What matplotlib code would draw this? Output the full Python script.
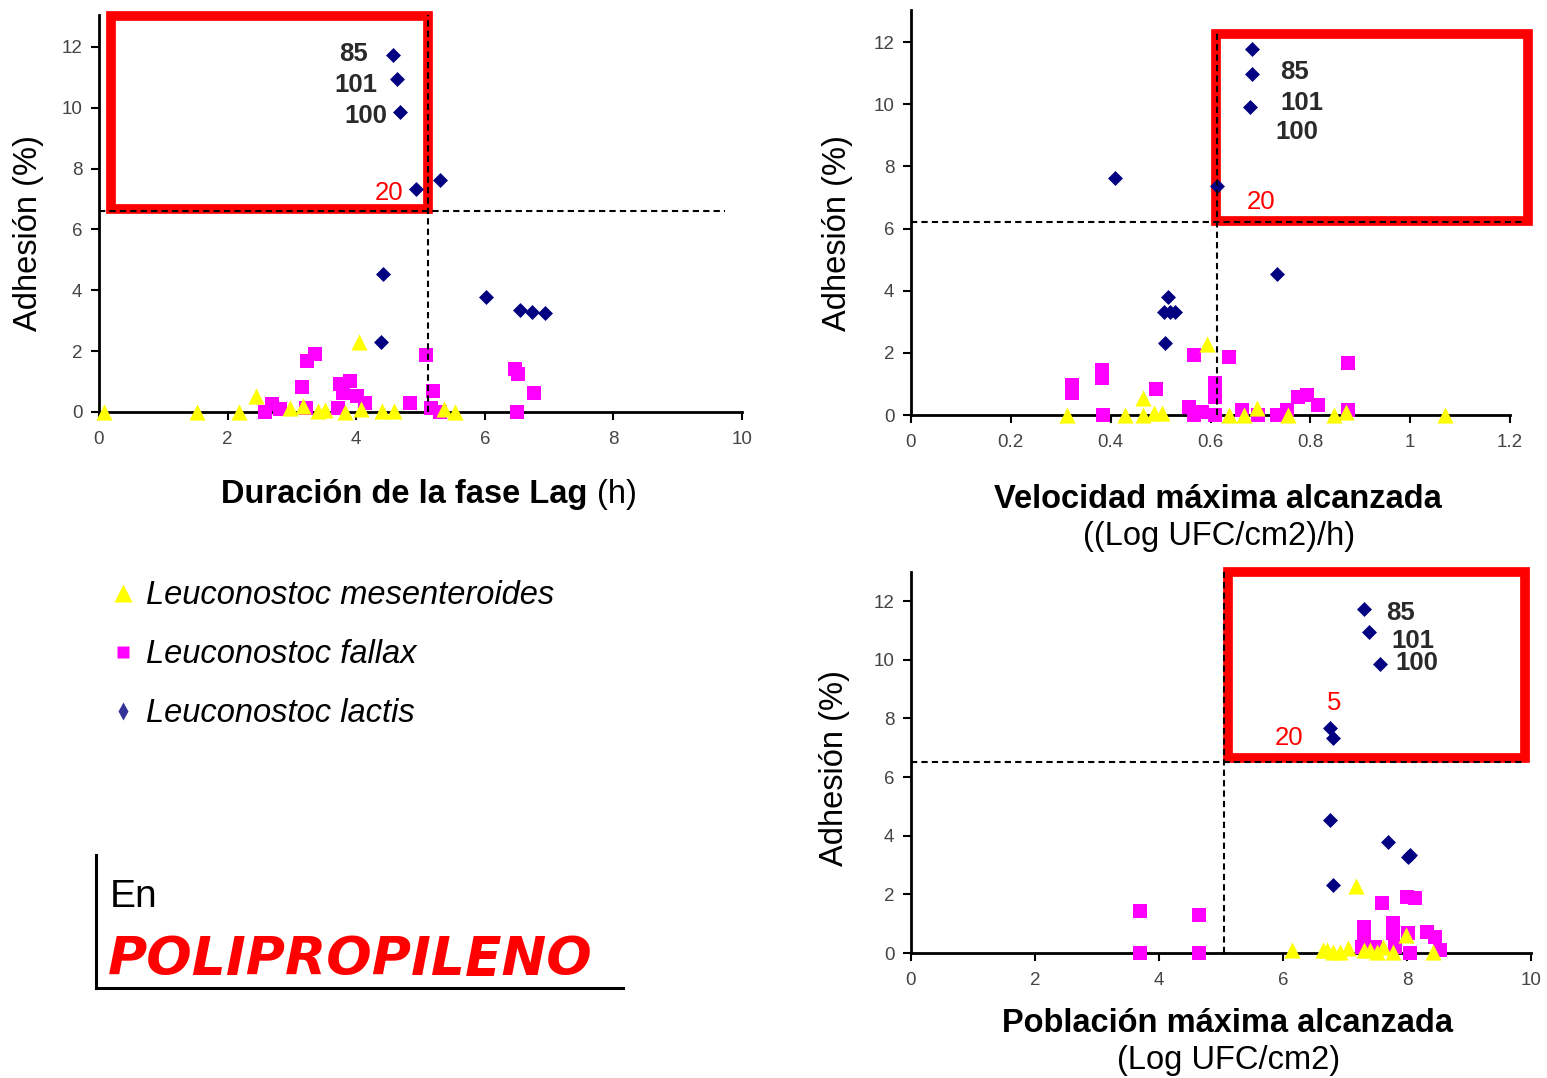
import numpy as np
import matplotlib.pyplot as plt
from matplotlib.patches import Rectangle
from matplotlib.lines import Line2D

plt.rcParams['font.family'] = ['Liberation Sans', 'DejaVu Sans']

# ---------------- data ----------------
# panel 1: duracion de la fase Lag (h)
lag_fal_x = [2.58, 2.69, 2.81, 3.15, 3.23, 3.36, 3.22, 3.75, 3.90, 3.80, 4.01,
             4.14, 3.72, 4.84, 5.09, 5.20, 5.17, 5.30, 6.47, 6.52, 6.77, 6.50]
lag_fal_y = [0.0, 0.25, 0.10, 0.82, 1.68, 1.90, 0.14, 0.91, 1.02, 0.64, 0.53,
             0.31, 0.14, 0.31, 1.87, 0.69, 0.14, 0.0, 1.41, 1.24, 0.64, 0.0]
lag_mes_x = [0.07, 1.53, 2.18, 2.44, 2.97, 3.18, 3.40, 3.52, 3.83, 4.05, 4.07,
             4.40, 4.59, 5.37, 5.54]
lag_mes_y = [0.0, 0.0, 0.0, 0.53, 0.14, 0.20, 0.03, 0.06, 0.0, 2.29, 0.11,
             0.03, 0.03, 0.09, 0.0]
lag_lac_x = [4.57, 4.64, 4.68, 4.93, 5.30, 4.42, 4.39, 6.02, 6.55, 6.73, 6.94]
lag_lac_y = [11.72, 10.94, 9.85, 7.34, 7.62, 4.55, 2.31, 3.79, 3.36, 3.30, 3.26]

# panel 2: velocidad maxima alcanzada ((Log UFC/cm2)/h)
vel_fal_x = [0.323, 0.323, 0.382, 0.382, 0.384, 0.491, 0.566, 0.556, 0.566,
             0.583, 0.609, 0.609, 0.609, 0.638, 0.663, 0.696, 0.734, 0.753,
             0.776, 0.793, 0.816, 0.876, 0.876]
vel_fal_y = [0.96, 0.70, 1.45, 1.18, 0.0, 0.83, 1.93, 0.27, 0.0, 0.10, 1.02,
             0.59, 0.0, 1.86, 0.16, 0.0, 0.0, 0.16, 0.59, 0.64, 0.32, 1.66, 0.16]
vel_mes_x = [0.312, 0.428, 0.464, 0.464, 0.486, 0.502, 0.593, 0.638, 0.667,
             0.694, 0.756, 0.848, 0.872, 1.07]
vel_mes_y = [0.0, 0.0, 0.54, 0.0, 0.05, 0.05, 2.28, 0.0, 0.0, 0.21, 0.0, 0.0,
             0.10, 0.0]
vel_lac_x = [0.684, 0.684, 0.679, 0.409, 0.614, 0.733, 0.514, 0.506, 0.518,
             0.529, 0.509]
vel_lac_y = [11.78, 10.98, 9.91, 7.63, 7.38, 4.54, 3.81, 3.32, 3.32, 3.32, 2.31]

# panel 3: poblacion maxima alcanzada (Log UFC/cm2)
pob_fal_x = [3.69, 3.69, 4.65, 4.65, 7.30, 7.30, 7.59, 7.78, 7.78, 8.00, 8.13,
             8.02, 8.05, 8.32, 8.45, 8.53, 7.27, 7.48, 7.81]
pob_fal_y = [1.43, 0.0, 1.30, 0.0, 0.90, 0.44, 1.69, 1.01, 0.67, 1.92, 1.86,
             0.67, 0.0, 0.73, 0.56, 0.10, 0.22, 0.22, 0.22]
pob_mes_x = [6.15, 7.18, 6.71, 6.81, 6.92, 7.05, 7.30, 7.51, 7.62, 7.78, 7.98,
             8.42, 6.65, 7.40]
pob_mes_y = [0.10, 2.28, 0.10, 0.04, 0.04, 0.16, 0.10, 0.04, 0.22, 0.04, 0.61,
             0.04, 0.10, 0.10]
pob_lac_x = [7.31, 7.38, 7.56, 6.76, 6.81, 6.76, 7.70, 8.05, 8.02, 6.80]
pob_lac_y = [11.72, 10.94, 9.85, 7.66, 7.34, 4.53, 3.79, 3.34, 3.28, 2.32]

species = ['Leuconostoc mesenteroides', 'Leuconostoc fallax', 'Leuconostoc lactis']
y_ticks = [0, 2, 4, 6, 8, 10, 12]

# thresholds (x cut, y cut) of each panel
lag_cut = (5.11, 6.60)
vel_cut = (0.614, 6.22)
pob_cut = (5.05, 6.52)

# ---------------- figure ----------------
W, H = 1547, 1078
fig = plt.figure(figsize=(W / 100, H / 100), dpi=100)

YEL, MAG, NAVY, RED = '#FFFF00', '#FF00FF', '#000080', '#FF0000'
NOTE = '#2a2a2a'


def add_ax(left, top, right, bottom):
    return fig.add_axes([left / W, 1 - bottom / H, (right - left) / W, (bottom - top) / H])


def panel(ax, fal, mes, lac, xmax, ymax, xticks, xlabels, cut, vtop, hend, rect, notes):
    ax.scatter(fal[0], fal[1], marker='s', s=110, c=MAG, linewidths=0, clip_on=False, zorder=3)
    ax.scatter(mes[0], mes[1], marker='^', s=135, c=YEL, linewidths=0, clip_on=False, zorder=4)
    ax.scatter(lac[0], lac[1], marker='D', s=58, c=NAVY, linewidths=0, clip_on=False, zorder=5)

    x0, y0, x1, y1 = rect
    ax.add_patch(Rectangle((x0, y0), x1 - x0, y1 - y0, fill=False, ec=RED, lw=7,
                           joinstyle='miter', clip_on=False, zorder=2))
    ax.plot([cut[0], cut[0]], [0, vtop], color='k', lw=1.5, dashes=(3, 2), clip_on=False, zorder=6)
    ax.plot([0, hend], [cut[1], cut[1]], color='k', lw=1.5, dashes=(3, 2), clip_on=False, zorder=6)

    for x, y, t, c, ha in notes:
        ax.text(x, y, t, ha=ha, va='center', fontsize=18.5, color=c, zorder=7,
                fontweight='bold' if c == NOTE else 'normal')

    ax.set_xlim(0, xmax)
    ax.set_ylim(0, ymax)
    ax.set_xticks(xticks)
    ax.set_xticklabels(xlabels)
    ax.set_yticks(y_ticks)
    ax.spines[['top', 'right']].set_visible(False)
    for s in ['left', 'bottom']:
        ax.spines[s].set_linewidth(2)
    ax.tick_params(direction='out', length=6, width=1.5, labelsize=13.5,
                   labelcolor='#444444', pad=6)
    ax.tick_params(axis='x', pad=8)
    ax.patch.set_alpha(0)


ax1 = add_ax(99, 15, 742, 412)
panel(ax1, (lag_fal_x, lag_fal_y), (lag_mes_x, lag_mes_y), (lag_lac_x, lag_lac_y),
      10, 13.05, [0, 2, 4, 6, 8, 10], ['0', '2', '4', '6', '8', '10'],
      lag_cut, 13.05, 9.74, (0.19, 6.66, 5.12, 13.02),
      [(4.18, 11.77, '85', NOTE, 'right'), (4.33, 10.75, '101', NOTE, 'right'),
       (4.49, 9.73, '100', NOTE, 'right'), (4.73, 7.20, '20', RED, 'right')])

ax2 = add_ax(911, 10, 1510, 415)
panel(ax2, (vel_fal_x, vel_fal_y), (vel_mes_x, vel_mes_y), (vel_lac_x, vel_lac_y),
      1.2, 13.03, [0, 0.2, 0.4, 0.6, 0.8, 1.0, 1.2], ['0', '0.2', '0.4', '0.6', '0.8', '1', '1.2'],
      vel_cut, 12.3, 1.23, (0.611, 6.24, 1.237, 12.26),
      [(0.739, 11.02, '85', NOTE, 'left'), (0.739, 10.05, '101', NOTE, 'left'),
       (0.729, 9.09, '100', NOTE, 'left'), (0.673, 6.84, '20', RED, 'left')])

ax3 = add_ax(911, 572, 1531, 953)
panel(ax3, (pob_fal_x, pob_fal_y), (pob_mes_x, pob_mes_y), (pob_lac_x, pob_lac_y),
      10, 12.99, [0, 2, 4, 6, 8, 10], ['0', '2', '4', '6', '8', '10'],
      pob_cut, 12.99, 9.9, (5.11, 6.65, 9.90, 12.99),
      [(7.67, 11.59, '85', NOTE, 'left'), (7.75, 10.64, '101', NOTE, 'left'),
       (7.82, 9.88, '100', NOTE, 'left'), (6.71, 8.51, '5', RED, 'left'),
       (5.87, 7.33, '20', RED, 'left')])

# axis titles
LBL = 23.5
fig.text(28 / W, 1 - 233 / H, 'Adhesión (%)', rotation=90, ha='center', va='center', fontsize=LBL)
fig.text(838 / W, 1 - 233 / H, 'Adhesión (%)', rotation=90, ha='center', va='center', fontsize=LBL)
fig.text(834 / W, 1 - 768 / H, 'Adhesión (%)', rotation=90, ha='center', va='center', fontsize=LBL)

fig.text(587 / W, 1 - 494 / H, 'Duración de la fase Lag', ha='right', va='center',
         fontsize=LBL, fontweight='bold')
fig.text(597 / W, 1 - 494 / H, '(h)', ha='left', va='center', fontsize=LBL)
fig.text(1218 / W, 1 - 500 / H, 'Velocidad máxima alcanzada', ha='center', va='center',
         fontsize=LBL, fontweight='bold')
fig.text(1219 / W, 1 - 536 / H, '((Log UFC/cm2)/h)', ha='center', va='center', fontsize=LBL)
fig.text(1228 / W, 1 - 1024 / H, 'Población máxima alcanzada', ha='center', va='center',
         fontsize=LBL, fontweight='bold')
fig.text(1229 / W, 1 - 1060 / H, '(Log UFC/cm2)', ha='center', va='center', fontsize=LBL)

# legend
handles = [Line2D([], [], ls='none', marker='^', ms=13, mfc=YEL, mec='none'),
           Line2D([], [], ls='none', marker='s', ms=8.6, mfc=MAG, mec='none'),
           Line2D([], [], ls='none', marker='d', ms=8.7, mfc='#333399', mec='none')]
fig.legend(handles, species, loc='upper left', bbox_to_anchor=(108 / W, 1 - 580 / H),
           frameon=False, borderpad=0, borderaxespad=0, handlelength=0.9,
           handletextpad=0.25, labelspacing=0.86,
           prop={'family': 'Liberation Sans', 'style': 'italic', 'size': LBL})

# "En POLIPROPILENO" box
fig.text(110 / W, 1 - 907 / H, 'En', ha='left', va='baseline', fontsize=28)
fig.text(108 / W, 1 - 975 / H, 'POLIPROPILENO', ha='left', va='baseline', fontsize=38.5,
         color=RED, family='DejaVu Sans', fontweight='bold', style='italic')
fig.add_artist(Line2D([96 / W, 96 / W], [1 - 855 / H, 1 - 988 / H], color='k', lw=2.2,
                      transform=fig.transFigure))
fig.add_artist(Line2D([96 / W, 623 / W], [1 - 988 / H, 1 - 988 / H], color='k', lw=2.2,
                      transform=fig.transFigure))

fig.savefig('out.png', dpi=100, facecolor='white')
